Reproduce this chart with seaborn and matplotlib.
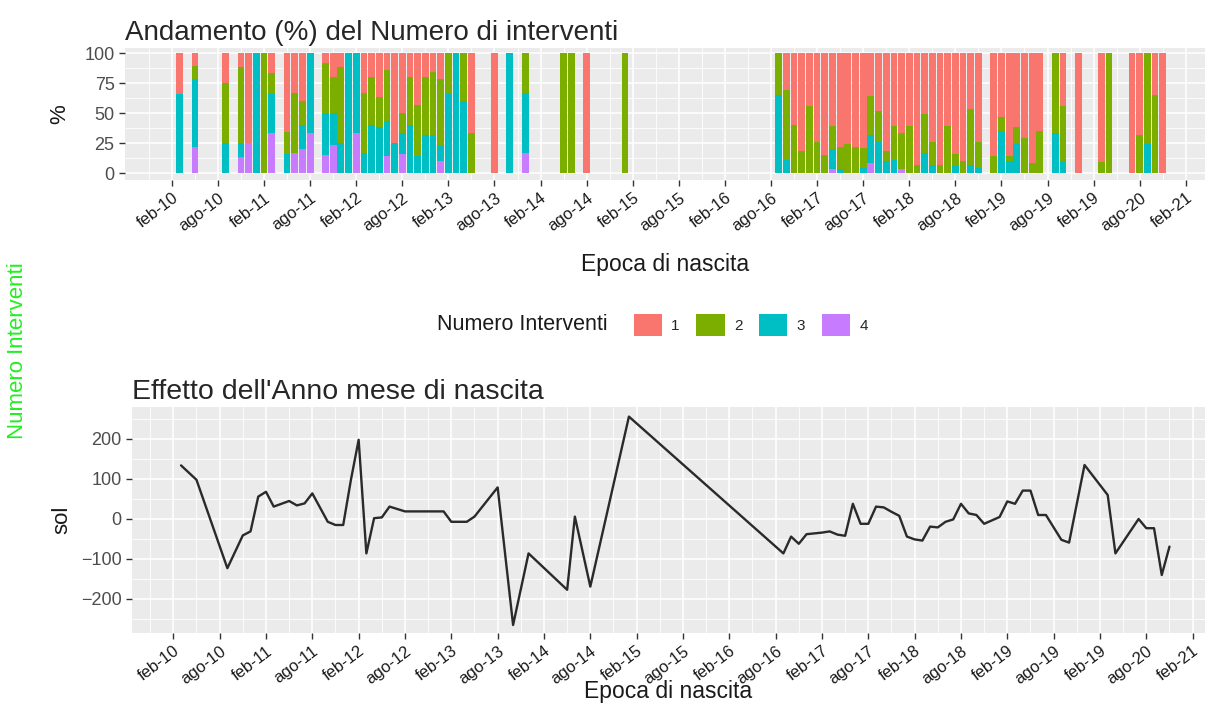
import numpy as np
import pandas as pd
import matplotlib
matplotlib.use("Agg")
import matplotlib.pyplot as plt
from matplotlib.patches import Patch
from matplotlib.ticker import FixedLocator
import seaborn as sns

# mesi di nascita presenti nei dati (anno-mese)
mesi = [
    "2010-03", "2010-05", "2010-09", "2010-11", "2010-12",
    "2011-01", "2011-02", "2011-03", "2011-05", "2011-06", "2011-07", "2011-08",
    "2011-10", "2011-11", "2011-12",
    "2012-01", "2012-02", "2012-03", "2012-04", "2012-05", "2012-06", "2012-07",
    "2012-08", "2012-09", "2012-10", "2012-11", "2012-12",
    "2013-01", "2013-02", "2013-03", "2013-04", "2013-05", "2013-08", "2013-10", "2013-12",
    "2014-05", "2014-06", "2014-08",
    "2015-01",
    "2016-09", "2016-10", "2016-11", "2016-12",
    "2017-01", "2017-02", "2017-03", "2017-04", "2017-05", "2017-06", "2017-07",
    "2017-08", "2017-09", "2017-10", "2017-11", "2017-12",
    "2018-01", "2018-02", "2018-03", "2018-04", "2018-05", "2018-06", "2018-07",
    "2018-08", "2018-09", "2018-10", "2018-11",
    "2019-01", "2019-02", "2019-03", "2019-04", "2019-05", "2019-06", "2019-07",
    "2019-09", "2019-10", "2019-12",
    "2020-03", "2020-04", "2020-07", "2020-08", "2020-09", "2020-10", "2020-11",
]

# quote (%) per numero di interventi
pct_1 = [34, 11, 25, 12, 75, 0, 0, 17, 66, 33, 40, 0, 8, 20, 12,
         0, 0, 33, 20, 37, 14, 75, 50, 20, 43, 20, 16,
         22, 0, 0, 0, 67, 100, 0, 0, 0, 0, 100, 0,
         0, 31, 60, 82,
         44, 74, 85, 61, 78, 76, 78, 79, 36, 48, 82, 61,
         67, 61, 93, 51, 74, 93, 61, 84, 90, 47, 74,
         86, 53, 86, 62, 71, 92, 65, 0, 44, 100,
         91, 0, 100, 68, 0, 35, 100]
pct_2 = [0, 11, 50, 63, 0, 0, 100, 17, 18, 50, 20, 0, 42, 30, 63,
         0, 0, 50, 40, 25, 43, 0, 17, 40, 43, 48, 52,
         55, 34, 0, 40, 33, 0, 0, 33, 100, 100, 0, 100,
         35, 58, 40, 18,
         56, 26, 15, 19, 19, 24, 22, 17, 32, 26, 8, 28,
         30, 39, 7, 32, 19, 7, 39, 10, 10, 46, 22,
         14, 12, 4, 14, 29, 8, 35, 67, 46, 0,
         9, 100, 0, 32, 76, 65, 0]
pct_3 = [66, 56, 25, 12, 0, 100, 0, 33, 16, 0, 20, 67, 35, 27, 25,
         100, 67, 17, 40, 38, 29, 25, 17, 40, 14, 32, 32,
         13, 66, 100, 60, 0, 0, 100, 50, 0, 0, 0, 0,
         65, 11, 0, 0,
         0, 0, 0, 17, 3, 0, 0, 4, 24, 26, 10, 11,
         0, 0, 0, 17, 7, 0, 0, 6, 0, 7, 4,
         0, 35, 10, 24, 0, 0, 0, 33, 10, 0,
         0, 0, 0, 0, 24, 0, 0]
pct_4 = [0, 22, 0, 13, 25, 0, 0, 33, 0, 17, 20, 33, 15, 23, 0,
         0, 33, 0, 0, 0, 14, 0, 16, 0, 0, 0, 0,
         10, 0, 0, 0, 0, 0, 0, 17, 0, 0, 0, 0,
         0, 0, 0, 0,
         0, 0, 0, 3, 0, 0, 0, 0, 8, 0, 0, 0,
         3, 0, 0, 0, 0, 0, 0, 0, 0, 0, 0,
         0, 0, 0, 0, 0, 0, 0, 0, 0, 0,
         0, 0, 0, 0, 0, 0, 0]

# effetto stimato (sol) per mese di nascita
sol = [133, 97, -124, -42, -32, 55, 67, 30, 44, 33, 38, 63, -8, -16, -16,
       97, 197, -87, 1, 3, 30, 24, 18, 18, 18, 18, 18,
       18, -8, -8, -8, 5, 78, -266, -87, -178, 5, -170, 255,
       -87, -45, -63, -39,
       -37, -35, -32, -40, -43, 37, -13, -13, 30, 28, 17, 7,
       -45, -52, -55, -20, -22, -8, -2, 37, 13, 9, -13,
       4, 43, 37, 70, 70, 9, 9, -53, -60, 134,
       59, -87, -1, -24, -24, -141, -70]

etichette = ["feb-10", "ago-10", "feb-11", "ago-11", "feb-12", "ago-12", "feb-13",
             "ago-13", "feb-14", "ago-14", "feb-15", "ago-15", "feb-16", "ago-16",
             "feb-17", "ago-17", "feb-18", "ago-18", "feb-19", "ago-19", "feb-19",
             "ago-20", "feb-21"]
livelli = ["1", "2", "3", "4"]
colori = ["#F8766D", "#7CAE00", "#00BFC4", "#C77CFF"]

# posizione in mesi a partire da feb-10
per = pd.PeriodIndex(mesi, freq="M")
pos = (per.year - 2010) * 12 + (per.month - 2)

df = pd.DataFrame({"pos": pos, "1": pct_1, "2": pct_2, "3": pct_3, "4": pct_4, "sol": sol})
tot = df[livelli].sum(axis=1)
for lv in livelli:
    df[lv] = df[lv] / tot * 100
lungo = df.melt(id_vars="pos", value_vars=livelli, var_name="num", value_name="pct")

sns.set_style("darkgrid", {"axes.facecolor": "#EBEBEB", "grid.color": "white"})
plt.rcParams["font.family"] = ["Liberation Sans", "DejaVu Sans"]

fig = plt.figure(figsize=(12.17, 7.09), dpi=100)
ax1 = fig.add_axes([125 / 1217, 1 - 180 / 709, 1080 / 1217, 132 / 709])
ax2 = fig.add_axes([132 / 1217, 1 - 633 / 709, 1073 / 1217, 226 / 709])

# barre percentuali impilate
sns.histplot(data=lungo, x="pos", weights="pct", hue="num", hue_order=livelli,
             multiple="stack", discrete=True, shrink=0.88, palette=colori,
             linewidth=0, alpha=1, legend=False, ax=ax1)
ax1.set_xlim(-6.1, 134.5)
ax1.set_ylim(-5.8, 104.2)
ax1.set_yticks([0, 25, 50, 75, 100])
ax1.yaxis.set_minor_locator(FixedLocator([12.5, 37.5, 62.5, 87.5]))
ax1.set_ylabel("%", fontsize=16, color="#1a1a1a", labelpad=10)
ax1.set_title("Andamento (%) del Numero di interventi", loc="left", fontsize=20, pad=6)

# linea dell'effetto
sns.lineplot(data=df, x="pos", y="sol", color="#2a2a2a", linewidth=1.7, ax=ax2)
ax2.set_xlim(-5.35, 133.6)
ax2.set_ylim(-286, 279)
ax2.set_yticks([-200, -100, 0, 100, 200])
ax2.yaxis.set_minor_locator(FixedLocator([-250, -150, -50, 50, 150, 250]))
ax2.set_ylabel("sol", fontsize=16, color="#1a1a1a", labelpad=6)
ax2.set_title("Effetto dell'Anno mese di nascita", loc="left", fontsize=20.5, pad=6)
ax2.title.set_x(-7 / 1073)

for ax in (ax1, ax2):
    ax.set_xticks(range(0, 133, 6))
    ax.set_xticklabels(etichette, rotation=37, ha="right", va="top",
                       rotation_mode="anchor", fontsize=12, color="#1a1a1a")
    ax.xaxis.set_minor_locator(FixedLocator(np.arange(-3, 136, 6)))
    ax.tick_params(axis="y", labelsize=13, labelcolor="#4d4d4d")
    ax.tick_params(which="major", bottom=True, left=True, length=4, width=1, color="#333333")
    ax.tick_params(which="minor", length=0)
    ax.grid(which="major", color="white", linewidth=1.1)
    ax.grid(which="minor", color="white", linewidth=0.6)
    for s in ax.spines.values():
        s.set_visible(False)

ax1.set_xlabel("Epoca di nascita", fontsize=16.5, color="#1a1a1a", labelpad=14)
ax2.set_xlabel("Epoca di nascita", fontsize=16.5, color="#1a1a1a", labelpad=-5)

# legenda orizzontale al centro
fig.text(437 / 1217, 1 - 325 / 709, "Numero Interventi", fontsize=15.5,
         color="#1a1a1a", va="center", ha="left")
maniglie = [Patch(facecolor=c, edgecolor="none") for c in colori]
fig.legend(maniglie, livelli, loc="center left", bbox_to_anchor=(620 / 1217, 1 - 325 / 709),
           ncol=4, frameon=False, fontsize=11, handlelength=1.85, handleheight=1.85,
           handletextpad=0.6, columnspacing=1.1)

fig.text(18 / 1217, 1 - 351 / 709, "Numero Interventi", rotation=90, fontsize=16,
         color="#22ee22", va="center", ha="center")

fig.savefig("out.png", dpi=100)
